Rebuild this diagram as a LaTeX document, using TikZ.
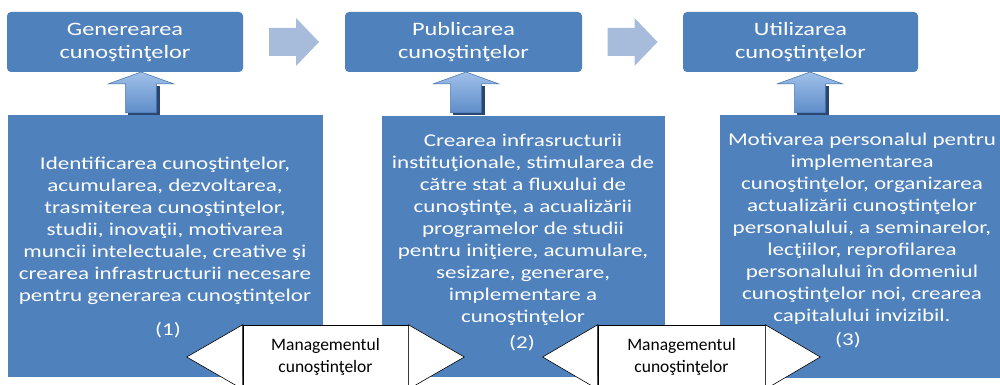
\documentclass[tikz,border=0pt]{standalone}
\usepackage{fontspec}
\setmainfont{Carlito}
\newfontfamily\wideCarlito[FakeStretch=1.28]{Carlito}
\usepackage{xcolor}
\usetikzlibrary{calc}
\definecolor{boxblue}{HTML}{4F81BD}
\definecolor{flowgray}{HTML}{A7BBDA}
\definecolor{liftdark}{HTML}{3F6CA6}
\definecolor{liftmid}{HTML}{5F8DC9}
\definecolor{liftlight}{HTML}{9FC0E9}
\definecolor{liftshadow}{HTML}{2A4670}
\tikzstyle{stage}=[fill=boxblue,rounded corners=4pt,text=white,align=center,inner sep=0pt,font=\wideCarlito\fontsize{19}{23}\selectfont]
\tikzstyle{panel}=[fill=boxblue,inner sep=0pt]
\tikzstyle{paneltext}=[text=white,align=center,inner sep=0pt,font=\wideCarlito\fontsize{18}{22}\selectfont]
\tikzstyle{mgmt}=[draw=black,fill=white,line width=.6pt,align=center,inner sep=0pt,minimum height=64pt,font=\fontsize{17.5}{22}\selectfont]
\newcommand{\flowArrow}[1]{
	\fill[flowgray] ($#1+(-25,-14)$) -- ($#1+(2,-14)$) -- ($#1+(2,-24)$) -- ($#1+(25,0)$) -- ($#1+(2,24)$) -- ($#1+(2,14)$) -- ($#1+(-25,14)$) -- cycle;
}
\newcommand{\liftArrow}[1]{
	\fill[liftshadow] (#1-13,115) -- (#1-13,86) -- (#1+18.5,86) -- (#1+18.5,115) -- cycle;
	\shade[top color=liftlight,bottom color=liftmid,draw=liftdark,line width=.5pt] (#1-15.5,113) -- (#1-15.5,84) -- (#1-33,84) -- (#1,72) -- (#1+33,84) -- (#1+15.5,84) -- (#1+15.5,113) -- cycle;
}
\newcommand{\mgmtWings}[2]{
	\coordinate (#1l) at ($(#1.west)+(-#2,0)$);
	\coordinate (#1r) at ($(#1.east)+(#2,0)$);
	\filldraw[fill=white,line width=.6pt] (#1.north west) -- (#1l) -- (#1.south west) -- cycle;
	\filldraw[fill=white,line width=.6pt] (#1.north east) -- (#1r) -- (#1.south east) -- cycle;
}

\begin{document}
\begin{tikzpicture}[x=1pt,y=-1pt]
	\clip (0,0) rectangle (1000,385);
	\fill[white] (0,0) rectangle (1000,385);
	% etapele
	\node[stage,minimum width=236pt,minimum height=60pt] (g1) at (125,42) {Generearea\\cunoştinţelor};
	\node[stage,minimum width=237pt,minimum height=60pt] (g2) at (463.5,42) {Publicarea\\cunoştinţelor};
	\node[stage,minimum width=235pt,minimum height=60pt] (g3) at (800.5,42) {Utilizarea\\cunoştinţelor};
	\coordinate (f1) at ($(g1.east)!.5!(g2.west)$);
	\coordinate (f2) at ($(g2.east)!.5!(g3.west)$);
	\flowArrow{(f1)}
	\flowArrow{(f2)}
	% sageti de jos in sus
	\liftArrow{141}
	\liftArrow{466}
	\liftArrow{810}
	% panourile
	\node[panel,minimum width=315pt,minimum height=262pt] (b1) at (165.5,246) {};
	\node[panel,minimum width=283pt,minimum height=261pt] (b2) at (523.5,246.5) {};
	\node[panel,minimum width=280pt,minimum height=263pt] (b3) at (860,246.5) {};
	\node[paneltext] (t1) at (165,231) {Identificarea cunoştinţelor,\\acumularea, dezvoltarea,\\trasmiterea cunoştinţelor,\\studii, inovaţii, motivarea\\muncii intelectuale, creative şi\\crearea infrastructurii necesare\\pentru generarea cunoştinţelor};
	\node[paneltext] (t2) at (523,230) {Crearea infrasructurii\\instituţionale, stimularea de\\către stat a fluxului de\\cunoştinţe, a acualizării\\programelor de studii\\pentru iniţiere, acumulare,\\sesizare, generare,\\implementare a\\cunoştinţelor};
	\node[paneltext] (t3) at (862,229) {Motivarea personalul pentru\\implementarea\\cunoştinţelor, organizarea\\actualizării cunoştinţelor\\personalului, a seminarelor,\\lecţiilor, reprofilarea\\personalului în domeniul\\cunoştinţelor noi, crearea\\capitalului invizibil.};
	\node[paneltext] (n1) at (168,330) {(1)};
	\node[paneltext] (n2) at (522,343) {(2)};
	\node[paneltext] (n3) at (848,340) {(3)};
	% managementul
	\node[mgmt,minimum width=165pt] (m1) at (325.5,357) {Managementul\\cunoştinţelor};
	\node[mgmt,minimum width=167pt] (m2) at (681.5,357) {Managementul\\cunoştinţelor};
	\mgmtWings{m1}{56}
	\mgmtWings{m2}{55}
\end{tikzpicture}
\end{document}
